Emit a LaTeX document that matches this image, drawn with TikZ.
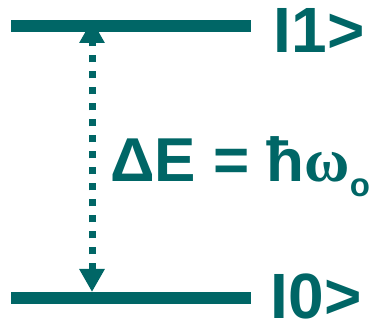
\documentclass[tikz,border=0pt]{standalone}
\usepackage{fontspec}
\setmainfont{Liberation Sans}
\newfontfamily\serifgreek{Liberation Serif}
\usetikzlibrary{arrows.meta}
\definecolor{teal}{HTML}{006666}
\tikzset{
  level/.style={draw=teal, line width=12pt},
  label/.style={text=teal, font=\fontsize{64}{64}\selectfont\bfseries, inner sep=0pt, anchor=base west, text depth=0pt},
  transition/.style={draw=teal, line width=7pt, dash pattern=on 7pt off 9pt,
    {Triangle[width=24pt,length=23pt]}-{Triangle[width=24pt,length=23pt]}}
}
\begin{document}
\begin{tikzpicture}[x=1pt,y=1pt]
\useasboundingbox (0,0) rectangle (376,322);
\coordinate (t1) at (11,296);
\coordinate (t2) at (251,296);
\coordinate (b1) at (11,24);
\coordinate (b2) at (251,24);
\draw[level] (t1) -- (t2);
\draw[level] (b1) -- (b2);
\coordinate (at) at (92,302);
\coordinate (ab) at (92,30);
\draw[transition] (ab) -- (at);
\node[label] (n1) at (273.5,269) {I1>};
\node[label] (n0) at (270.5,3) {I0>};
\node[label, font=\fontsize{62}{62}\selectfont\bfseries] (de) at (110,140) {ΔE = ħ{\serifgreek ω}{\fontsize{33}{33}\selectfont\raisebox{-15pt}{o}}};
\end{tikzpicture}
\end{document}
